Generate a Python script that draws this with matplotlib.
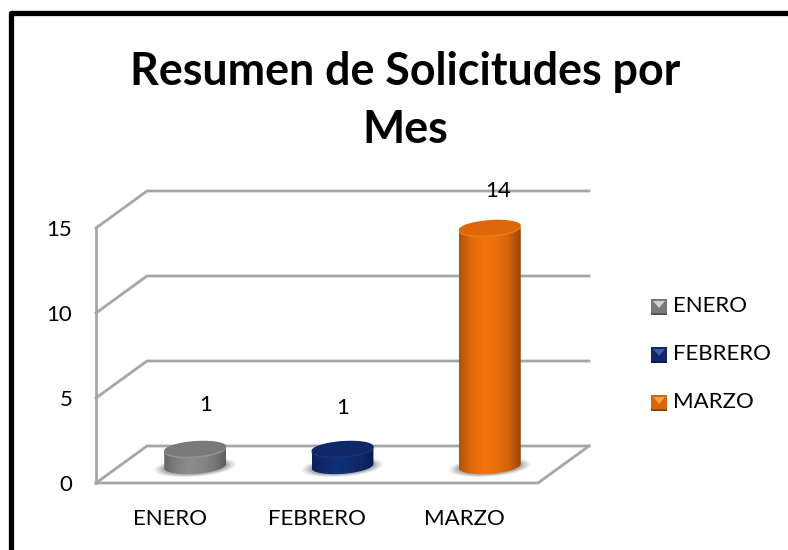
# Resumen de Solicitudes por Mes - fake 3D cylinder chart
import numpy as np
import matplotlib
matplotlib.use('Agg')
import matplotlib.pyplot as plt
from matplotlib.lines import Line2D
from matplotlib.patches import Polygon, Rectangle, PathPatch
from matplotlib.path import Path
from matplotlib.colors import LinearSegmentedColormap

plt.rcParams['font.family'] = ['Lato', 'DejaVu Sans']

# Data
meses = ['ENERO', 'FEBRERO', 'MARZO']
solicitudes = [1, 1, 14]
y_ticks = [0, 5, 10, 15]
titulo = 'Resumen de Solicitudes por\nMes'

# Colours for the side shading, left to right
colores_lado = [['#666666', '#808080', '#8c8c8c', '#868686', '#7a7a7a', '#5f5f5f'],
                ['#0b2059', '#0f2a6c', '#11307a', '#0f2c70', '#0e2866', '#091c4e'],
                ['#b25205', '#e36a0a', '#f4730c', '#ea6e0a', '#d5630a', '#984704']]
colores_tapa = ['#797979', '#0e2868', '#dd670a']
colores_borde = ['#939393', '#16337c', '#ec7a1c']
colores_leyenda = ['#7a7a7a', '#10276a', '#d9650a']
colores_bisel = ['#d0d0d0', '#3a5cb0', '#f9a040']

W, H = 788, 550
GRIS = '#a6a6a6'

fig = plt.figure(figsize=(W / 100, H / 100), dpi=100)

# outer frame, only left and top sides are in the crop
fig.add_artist(Line2D([11 / W, 11 / W, 1.02], [-0.02, (H - 13) / H, (H - 13) / H],
                      transform=fig.transFigure, color='black', linewidth=3.8,
                      solid_joinstyle='round'))

# axes box is the front floor edge: x 96-538 px, y 0 at 483 px, 15 at 228 px
ax = fig.add_axes([96 / W, (H - 483) / H, 442 / W, 255 / H])
ax.patch.set_visible(False)
for s in ax.spines.values():
    s.set_visible(False)

# depth of the floor in data units
dx = 51 / (442 / 3)
dy = 37 / 17

ax.set_xticks([0.5, 1.5, 2.5], meses)
ax.set_yticks(y_ticks)
ax.tick_params(length=0, labelsize=16, colors='black')
ax.tick_params(axis='x', pad=19)
ax.tick_params(axis='y', pad=17)
for lab in ax.get_yticklabels():
    lab.set_y(lab.get_position()[1])

# walls and gridlines
ax.plot([0, 0], [0, 15], color=GRIS, lw=2, clip_on=False, zorder=1)
for v in y_ticks:
    ax.plot([0, dx, 3 + dx], [v, v + dy, v + dy], color=GRIS, lw=2, clip_on=False, zorder=1,
            solid_joinstyle='miter')
ax.plot([0, 3, 3 + dx], [0, 0, dy], color=GRIS, lw=2, clip_on=False, zorder=1,
        solid_joinstyle='miter')

# cylinders
a = 0.21
b = 0.45
tilt = 0.6
t = np.linspace(0, 2 * np.pi, 120)
label_dx = [10, 0, 8]    # px, label offset from the cylinder centre
label_y = [4.6, 4.4, 17.2]
for i, v in enumerate(solicitudes):
    cx = i + 0.5 + dx / 2
    y0 = dy / 2 - 0.1

    def elipse(cy, sx=1.0, sy=1.0):
        return np.column_stack([cx + sx * a * np.cos(t),
                                cy + sy * b * np.sin(t) + sx * tilt * a * np.cos(t)])

    # soft shadow on the floor
    for k, alpha in zip([1.32, 1.24, 1.16, 1.08], [0.10, 0.14, 0.2, 0.28]):
        ax.add_patch(Polygon(elipse(y0 - 0.05, k, k * 0.95), closed=True, facecolor='#777777',
                             edgecolor='none', alpha=alpha, zorder=2, clip_on=False))

    # body outline: lower half of base ellipse + upper half of top ellipse
    ang = np.linspace(np.pi, 2 * np.pi, 60)
    low = np.column_stack([cx + a * np.cos(ang), y0 + b * np.sin(ang) + tilt * a * np.cos(ang)])
    ang2 = np.linspace(0, np.pi, 60)
    top = np.column_stack([cx + a * np.cos(ang2), y0 + v + b * np.sin(ang2) + tilt * a * np.cos(ang2)])
    cuerpo = np.vstack([low, top, low[:1]])
    parche = PathPatch(Path(cuerpo), facecolor='none', edgecolor='none', zorder=3)
    ax.add_patch(parche)
    cmap = LinearSegmentedColormap.from_list('lado', colores_lado[i])
    im = ax.imshow(np.linspace(0, 1, 128).reshape(1, -1), cmap=cmap, aspect='auto',
                   extent=[cx - a, cx + a, y0 - b - 0.5, y0 + v + b + 0.5], zorder=3)
    im.set_clip_path(parche)

    # top face with a light rim on the front edge
    ax.add_patch(Polygon(elipse(y0 + v - 0.06), closed=True, facecolor=colores_borde[i],
                         edgecolor='none', zorder=4, clip_on=False))
    ax.add_patch(Polygon(elipse(y0 + v + 0.03), closed=True, facecolor=colores_tapa[i],
                         edgecolor='none', zorder=4, clip_on=False))

    # value label
    ax.text(cx + label_dx[i] / (442 / 3), label_y[i], str(v), ha='center', va='center',
            fontsize=16, color='black', zorder=5, clip_on=False)

ax.set_xlim(0, 3)
ax.set_ylim(0, 15)

# legend by hand, bevelled squares
for nombre, col, bis, ypx in zip(meses, colores_leyenda, colores_bisel, [307, 355, 403]):
    x0, x1 = 651 / W, 667 / W
    y0f, y1f = (H - ypx - 8) / H, (H - ypx + 8) / H
    xm, ym = (x0 + x1) / 2, (y0f + y1f) / 2
    fig.add_artist(Rectangle((x0, y0f), x1 - x0, y1f - y0f, transform=fig.transFigure,
                             facecolor=col, edgecolor='none'))
    fig.add_artist(Polygon([(x0 + 2 / W, y1f - 2 / H), (x1 - 2 / W, y1f - 2 / H), (xm, ym - 1 / H)],
                           transform=fig.transFigure, facecolor=bis, edgecolor='none'))
    fig.add_artist(Rectangle((x0, y0f), x1 - x0, 2 / H, transform=fig.transFigure,
                             facecolor='black', alpha=0.3, edgecolor='none'))
    fig.text(673 / W, (H - ypx + 1) / H, nombre, fontsize=16, va='center', ha='left', color='black')

# title
fig.text(405.5 / W, (H - 101) / H, titulo, fontsize=32.2, fontweight='bold', ha='center', va='center',
         linespacing=1.47, color='black')

fig.savefig('out.png', dpi=100)
